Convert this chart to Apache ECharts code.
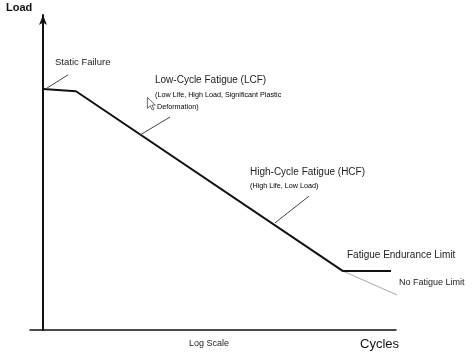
<!DOCTYPE html>
<html><head><meta charset="utf-8">
<script src="https://cdn.jsdelivr.net/npm/echarts@6/dist/echarts.min.js"></script>
<style>html,body{margin:0;padding:0;background:#fff}#c{width:474px;height:357px}</style>
</head><body><div id="c"></div>
<script>
// x = log10(cycles), y = relative load
const snCurveX = [0, 0.66, 6.0, 6.96];
const snCurveY = [76.5, 75.8, 18.7, 18.7];
const noLimitX = [6.0, 7.44];
const noLimitY = [18.7, 8.6];
const leaderStaticX = [0.08, 0.5];
const leaderStaticY = [76.8, 81.0];
const leaderLcfX = [1.94, 2.54];
const leaderLcfY = [61.9, 67.6];
const leaderHcfX = [4.64, 5.32];
const leaderHcfY = [34.0, 42.5];

const zip = (a, b) => a.map((v, i) => [v, b[i]]);
const chart = echarts.init(document.getElementById('c'));
const F = '"Liberation Sans", Arial, sans-serif';
const txt = (x, y, s, size, weight, fill) => ({
  type: 'text', left: x, top: y,
  style: { text: s, fontFamily: F, fontSize: size, fontWeight: weight || 'normal', fill: fill || '#222' }
});
const lineS = (d, color, w) => ({
  type: 'line', data: d, symbol: 'none', silent: true, animation: false,
  lineStyle: { color: color, width: w }
});
chart.setOption({
  animation: false,
  grid: { left: 30, right: 78, top: 15, bottom: 27 },
  xAxis: {
    type: 'value', min: -0.26, max: 7.06,
    axisLine: { lineStyle: { color: '#111', width: 1.5 } },
    axisTick: { show: false }, axisLabel: { show: false }, splitLine: { show: false }
  },
  yAxis: {
    type: 'value', min: 0, max: 100,
    axisLine: { onZero: true, symbol: ['none', 'arrow'], symbolSize: [6, 10],
      lineStyle: { color: '#111', width: 2 } },
    axisTick: { show: false }, axisLabel: { show: false }, splitLine: { show: false }
  },
  series: [
    lineS(zip(noLimitX, noLimitY), '#aaa', 1),
    lineS(zip(snCurveX, snCurveY), '#111', 2),
    lineS(zip(leaderStaticX, leaderStaticY), '#444', 1),
    lineS(zip(leaderLcfX, leaderLcfY), '#444', 1),
    lineS(zip(leaderHcfX, leaderHcfY), '#444', 1)
  ],
  graphic: [
    txt(6, 2, 'Load', 11, 'bold', '#111'),
    txt(55, 57, 'Static Failure', 9.5),
    txt(155, 75, 'Low-Cycle Fatigue (LCF)', 10),
    txt(155, 92, '(Low Life, High Load, Significant Plastic', 7.2, 'normal', '#000'),
    txt(157, 104, 'Deformation)', 7.2, 'normal', '#000'),
    txt(250, 167, 'High-Cycle Fatigue (HCF)', 10),
    txt(250, 183, '(High Life, Low Load)', 7.2, 'normal', '#000'),
    txt(347, 250, 'Fatigue Endurance Limit', 10),
    txt(399, 278, 'No Fatigue Limit', 9),
    txt(189, 339, 'Log Scale', 9),
    txt(360, 338, 'Cycles', 13, 'normal', '#111'),
    {
      type: 'polygon', left: 147, top: 97,
      shape: { points: [[0,0],[0,11],[2.7,8.3],[4.8,12.5],[6.5,11.7],[4.5,7.7],[8,7.7]] },
      style: { fill: '#fff', stroke: '#444', lineWidth: 0.8 }
    }
  ]
});
</script></body></html>
